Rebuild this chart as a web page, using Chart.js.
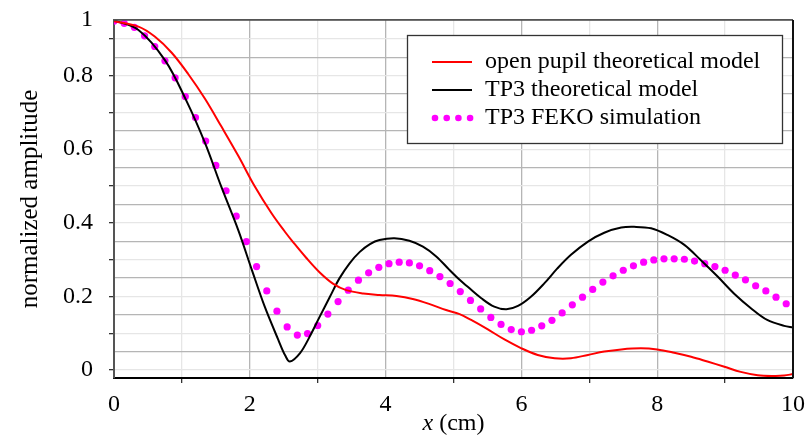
<!DOCTYPE html>
<html>
<head>
<meta charset="utf-8">
<script src="https://cdn.jsdelivr.net/npm/chart.js@4.4.0/dist/chart.umd.min.js"></script>
<style>
	body { margin: 0; background: #fff; }
</style>
</head>
<body>
<canvas id="grafico" width="805" height="437"></canvas>
<script>
// open pupil theoretical model (red line)
const xAbierta = [0, 0.36, 0.6, 0.85, 1.09, 1.34, 1.58, 1.83, 2.07, 2.32, 2.52, 2.64, 2.83, 3.03, 3.23, 3.42, 3.67, 3.91, 4.16, 4.4, 4.65, 4.89, 5.09, 5.26, 5.5, 5.75, 6, 6.24, 6.49, 6.73, 6.98, 7.22, 7.47, 7.76, 8, 8.25, 8.5, 8.74, 8.99, 9.23, 9.48, 9.72, 9.87, 10];
const yAbierta = [0.948, 0.933, 0.906, 0.862, 0.805, 0.737, 0.662, 0.582, 0.5, 0.426, 0.375, 0.347, 0.305, 0.265, 0.234, 0.217, 0.208, 0.204, 0.201, 0.193, 0.179, 0.163, 0.152, 0.136, 0.111, 0.083, 0.059, 0.041, 0.032, 0.032, 0.041, 0.05, 0.056, 0.059, 0.056, 0.047, 0.036, 0.023, 0.009, -0.005, -0.014, -0.016, -0.015, -0.011];

// TP3 theoretical model (black line)
const xTp3 = [0, 0.36, 0.75, 1.06, 1.34, 1.58, 1.83, 2.03, 2.22, 2.42, 2.52, 2.59, 2.74, 2.88, 3.03, 3.18, 3.32, 3.47, 3.62, 3.77, 3.91, 4.13, 4.35, 4.55, 4.75, 4.94, 5.09, 5.21, 5.41, 5.6, 5.78, 5.95, 6.14, 6.34, 6.53, 6.73, 6.98, 7.22, 7.47, 7.66, 7.91, 8.15, 8.4, 8.64, 8.89, 9.13, 9.38, 9.62, 9.87, 10];
const yTp3 = [0.95, 0.924, 0.842, 0.734, 0.617, 0.498, 0.38, 0.272, 0.172, 0.082, 0.04, 0.023, 0.046, 0.09, 0.145, 0.199, 0.249, 0.29, 0.321, 0.342, 0.353, 0.358, 0.351, 0.335, 0.308, 0.272, 0.245, 0.226, 0.195, 0.172, 0.165, 0.174, 0.199, 0.236, 0.276, 0.313, 0.349, 0.373, 0.387, 0.389, 0.385, 0.367, 0.34, 0.299, 0.254, 0.208, 0.168, 0.136, 0.12, 0.116];

// TP3 FEKO simulation (magenta dots)
const xFeko = [0, 0.15, 0.3, 0.45, 0.6, 0.75, 0.9, 1.05, 1.2, 1.35, 1.5, 1.65, 1.8, 1.95, 2.1, 2.25, 2.4, 2.55, 2.7, 2.85, 3, 3.15, 3.3, 3.45, 3.6, 3.75, 3.9, 4.05, 4.2, 4.35, 4.5, 4.65, 4.8, 4.95, 5.1, 5.25, 5.4, 5.55, 5.7, 5.85, 6, 6.15, 6.3, 6.45, 6.6, 6.75, 6.9, 7.05, 7.2, 7.35, 7.5, 7.65, 7.8, 7.95, 8.1, 8.25, 8.4, 8.55, 8.7, 8.85, 9, 9.15, 9.3, 9.45, 9.6, 9.75, 9.9];
const yFeko = [0.948, 0.942, 0.931, 0.908, 0.879, 0.84, 0.794, 0.743, 0.686, 0.622, 0.556, 0.487, 0.418, 0.349, 0.281, 0.215, 0.16, 0.117, 0.095, 0.099, 0.121, 0.152, 0.186, 0.217, 0.244, 0.264, 0.279, 0.289, 0.293, 0.291, 0.283, 0.27, 0.254, 0.235, 0.213, 0.189, 0.166, 0.143, 0.124, 0.11, 0.104, 0.108, 0.12, 0.135, 0.155, 0.177, 0.198, 0.219, 0.239, 0.256, 0.271, 0.283, 0.293, 0.299, 0.302, 0.302, 0.301, 0.296, 0.289, 0.281, 0.271, 0.258, 0.245, 0.229, 0.215, 0.198, 0.18];

const etiquetas = ['open pupil theoretical model', 'TP3 theoretical model', 'TP3 FEKO simulation'];
const xEtiquetas = [0, 2, 4, 6, 8, 10];
const yEtiquetas = [0, 0.2, 0.4, 0.6, 0.8];
const yArriba = '1';

const yMin = -0.0217;
const yMax = 0.951;
const serif = "'Liberation Serif', 'Times New Roman', serif";

function puntos(xs, ys){
	return xs.map((x, i) => ({ x: x, y: ys[i] }));
}

function esDecima(v){
	return Math.abs(v * 10 - Math.round(v * 10)) < 1e-6;
}

// legend box inside the plot, with a border
const leyenda = {
	id: 'leyenda',
	afterDatasetsDraw(chart) {
		const c = chart.ctx;
		const a = chart.chartArea;
		const x0 = a.right - 386, y0 = a.top + 15, w = 375, h = 108;
		c.save();
		c.fillStyle = '#fff';
		c.fillRect(x0, y0, w, h);
		c.strokeStyle = '#333';
		c.lineWidth = 1.3;
		c.strokeRect(x0 + 0.5, y0 + 0.5, w, h);
		c.font = '24px ' + serif;
		c.textBaseline = 'middle';
		c.fillStyle = '#000';
		chart.data.datasets.forEach((ds, i) => {
			const y = y0 + 27 + i * 28;
			if (ds.showLine === false) {
				c.fillStyle = ds.backgroundColor;
				for (let k = 0; k < 4; k++) {
					c.beginPath();
					c.arc(x0 + 28 + k * 11.7, y, 3.3, 0, Math.PI * 2);
					c.fill();
				}
			} else {
				c.strokeStyle = ds.borderColor;
				c.lineWidth = 2;
				c.beginPath();
				c.moveTo(x0 + 25, y);
				c.lineTo(x0 + 65, y);
				c.stroke();
			}
			c.fillStyle = '#000';
			c.fillText(ds.label, x0 + 78, y);
		});
		c.restore();
	}
};

// top and right frame, plus the x title with an italic x
const marco = {
	id: 'marco',
	afterDraw(chart) {
		const c = chart.ctx;
		const a = chart.chartArea;
		c.save();
		c.strokeStyle = '#555';
		c.lineWidth = 1.5;
		c.beginPath();
		c.moveTo(a.left, a.top);
		c.lineTo(a.right, a.top);
		c.stroke();
		c.strokeStyle = '#111';
		c.lineWidth = 2;
		c.beginPath();
		c.moveTo(a.right, a.top);
		c.lineTo(a.right, a.bottom);
		c.stroke();

		c.fillStyle = '#000';
		c.textBaseline = 'middle';
		c.textAlign = 'left';
		const cursiva = 'italic 24px ' + serif;
		const normal = '24px ' + serif;
		c.font = cursiva;
		const w1 = c.measureText('x').width;
		c.font = normal;
		const w2 = c.measureText(' (cm)').width;
		const xc = (a.left + a.right) / 2 - (w1 + w2) / 2;
		const yc = a.bottom + 46;
		c.font = cursiva;
		c.fillText('x', xc, yc);
		c.font = normal;
		c.fillText(' (cm)', xc + w1, yc);
		c.restore();
	}
};

const config = {
	type: 'scatter',
	data: {
		datasets: [{
			label: etiquetas[0],
			data: puntos(xAbierta, yAbierta),
			showLine: true,
			borderColor: '#ff0000',
			backgroundColor: '#ff0000',
			borderWidth: 2,
			pointRadius: 0,
			tension: 0.35
		}, {
			label: etiquetas[1],
			data: puntos(xTp3, yTp3),
			showLine: true,
			borderColor: '#000000',
			backgroundColor: '#000000',
			borderWidth: 2,
			pointRadius: 0,
			tension: 0.35
		}, {
			label: etiquetas[2],
			data: puntos(xFeko, yFeko),
			showLine: false,
			borderColor: '#ff00ff',
			backgroundColor: '#ff00ff',
			pointRadius: 3.6,
			pointBorderWidth: 0
		}]
	},
	options: {
		responsive: false,
		animation: false,
		layout: { padding: { left: 0, top: 20, right: 12, bottom: 0 } },
		plugins: {
			legend: { display: false },
			tooltip: { enabled: false }
		},
		scales: {
			x: {
				type: 'linear',
				min: 0,
				max: 10,
				afterFit(scale) {
					scale.height = 59;
					scale.paddingLeft = 0;
					scale.paddingRight = 0;
				},
				ticks: {
					stepSize: 1,
					autoSkip: false,
					maxRotation: 0,
					padding: 7,
					color: '#000',
					font: { family: serif, size: 24 },
					callback: (v) => xEtiquetas.includes(v) ? String(v) : ''
				},
				grid: {
					color: (ctx) => (ctx.tick && ctx.tick.value % 2 === 0) ? '#b5b5b5' : '#e6e6e6',
					lineWidth: 1.3,
					tickLength: 5,
					tickColor: (ctx) => (ctx.tick && ctx.tick.value % 2 !== 0) ? '#333' : 'rgba(0,0,0,0)'
				},
				border: { color: '#000', width: 2 }
			},
			y: {
				type: 'linear',
				min: yMin,
				max: yMax,
				afterFit(scale) {
					scale.width = 114;
					scale.paddingTop = 0;
					scale.paddingBottom = 0;
				},
				afterBuildTicks(scale) {
					const t = [];
					for (let k = 0; k <= 18; k++) t.push({ value: k * 0.05 });
					t.push({ value: yMax });
					scale.ticks = t;
				},
				ticks: {
					autoSkip: false,
					padding: 16,
					color: '#000',
					font: { family: serif, size: 24 },
					callback: function (v) {
						if (v === yMax) return yArriba;
						const e = yEtiquetas.find(q => Math.abs(q - v) < 1e-6);
						return e === undefined ? '' : String(e);
					}
				},
				grid: {
					color: (ctx) => {
						if (!ctx.tick) return '#e6e6e6';
						if (ctx.tick.value === yMax) return '#555';
						return esDecima(ctx.tick.value) ? '#e6e6e6' : '#b5b5b5';
					},
					lineWidth: 1.3,
					tickLength: 5,
					tickColor: (ctx) => (ctx.tick && esDecima(ctx.tick.value) && ctx.tick.value !== yMax) ? '#333' : 'rgba(0,0,0,0)'
				},
				border: { color: '#555', width: 2 },
				title: {
					display: true,
					text: 'normalized amplitude',
					color: '#000',
					font: { family: serif, size: 25 },
					padding: { top: 15, bottom: 0 }
				}
			}
		}
	},
	plugins: [leyenda, marco]
};

const grafico = new Chart(document.getElementById('grafico'), config);
</script>
</body>
</html>
